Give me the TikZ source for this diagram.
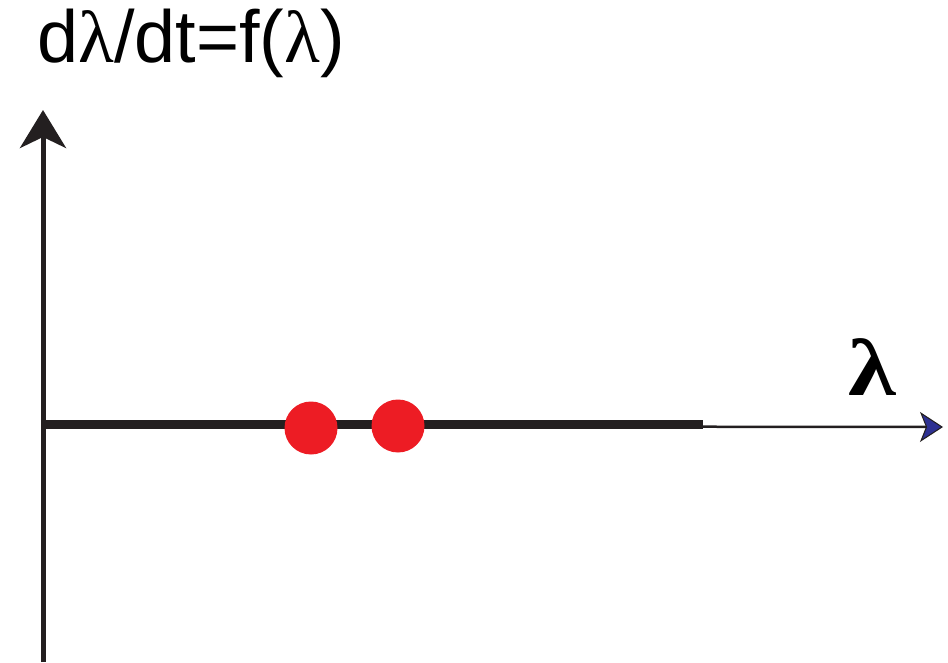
\documentclass[tikz,border=0pt]{standalone}
\usepackage{amsmath,amssymb}
\usepackage{fontspec}
\setmainfont{Liberation Sans}
\newfontfamily\grkfont{Liberation Serif}
\usepackage{tikz}
\usetikzlibrary{arrows.meta,positioning,calc}

\definecolor{axisblack}{HTML}{231F20}
\definecolor{fpred}{HTML}{ED1C24}
\definecolor{tipblue}{HTML}{2E3192}
\newcommand{\lam}{{\grkfont λ}}

\begin{document}
\begin{tikzpicture}[
    axis/.style={draw=axisblack, line width=0.1cm},
    fixpt/.style={circle, fill=fpred, minimum size=1.06cm, inner sep=0pt},
    thickline/.style={draw=axisblack, line width=0.18cm},
    xarr/.style={-{Stealth[length=0.46cm, width=0.6cm, inset=0.12cm, fill=tipblue, color=axisblack, line width=0.6pt]}, draw=axisblack, line width=0.05cm},
    yarr/.style={-{Stealth[length=0.76cm, width=0.92cm, inset=0.22cm]}}
]
\useasboundingbox (0,0) rectangle (18.96,13.24);

\coordinate (ybot) at (0.86,0);
\coordinate (ytop) at (0.86,11.04);
\coordinate (o) at (0.86,4.72);
\coordinate (xend) at (18.86,4.70);
\coordinate (thickend) at (14.06,4.76);

\draw[axis, yarr] (ybot) -- (ytop);
\draw[xarr] (o) -- (xend);
\draw[thickline] (o |- thickend) -- (thickend);

\node[fixpt] (fp1) at (6.22,4.68) {};
\node[fixpt] (fp2) at (7.96,4.72) {};

\node[anchor=base west, inner sep=0pt, font=\fontsize{42}{46}\selectfont] (ylabel) at (0.74,11.98) {d\lam/dt=f(\lam)};
\node[anchor=base, inner sep=0pt, font=\fontsize{46}{50}\selectfont\bfseries, xscale=1.2] (xlabel) at (17.45,5.34) {\lam};
\end{tikzpicture}
\end{document}
